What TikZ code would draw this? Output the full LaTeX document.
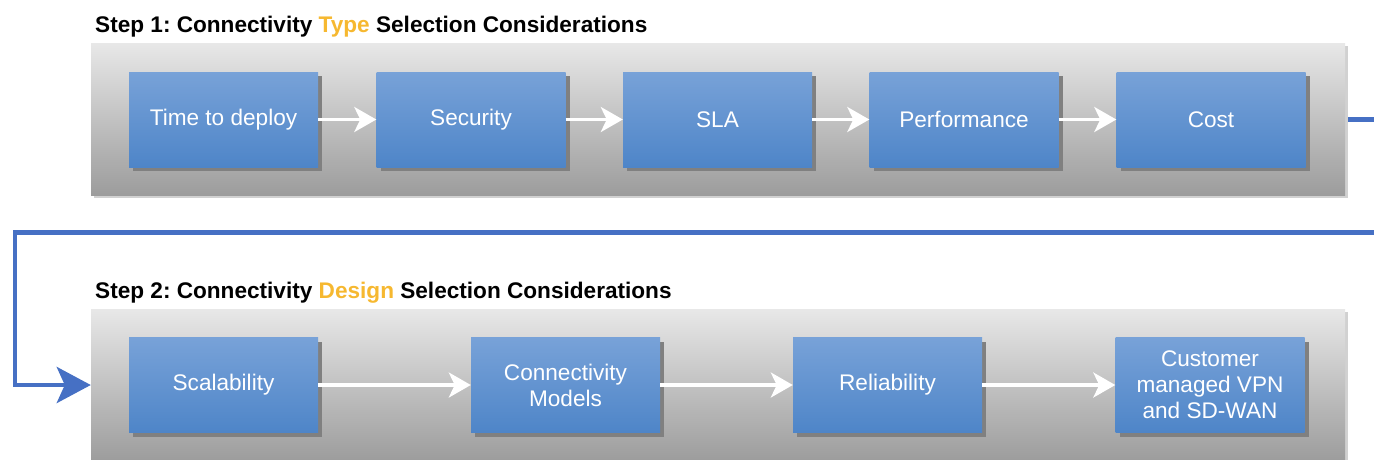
\documentclass[tikz,border=0pt]{standalone}
\usepackage{fontspec}
\setmainfont{Liberation Sans}
\usetikzlibrary{arrows.meta,shadows}
\frenchspacing
\definecolor{boxtop}{RGB}{120,162,216}
\definecolor{boxbot}{RGB}{78,133,200}
\definecolor{paneltop}{RGB}{232,232,232}
\definecolor{panelbot}{RGB}{156,156,156}
\definecolor{flowblue}{RGB}{70,112,196}
\definecolor{accent}{RGB}{246,184,48}
\pgfdeclarelayer{back}
\pgfsetlayers{back,main}
\tikzset{
  panel/.style={rectangle, minimum width=1254pt, minimum height=152pt,
    top color=paneltop, bottom color=panelbot, draw=none,
    general shadow={fill=black!18, shadow xshift=3pt, shadow yshift=-3pt}},
  stepbox/.style={rectangle, minimum width=189pt, minimum height=95pt,
    top color=boxtop, bottom color=boxbot, draw=none, text=white,
    align=center, inner sep=2pt,
    font=\fontsize{22.6}{26}\selectfont,
    general shadow={fill=black!50, shadow xshift=4pt, shadow yshift=-4pt}},
  steptitle/.style={anchor=base west, inner sep=0pt,
    font=\fontsize{22.6}{26}\selectfont\bfseries},
  flow/.style={draw=white, line width=3.5pt,
    -{Stealth[length=22pt, width=25pt, inset=6pt]}},
  link/.style={draw=flowblue, line width=4.5pt,
    -{Stealth[length=34pt, width=36pt, inset=8pt]}}
}
\begin{document}
\begin{tikzpicture}[x=1pt, y=-1pt]
\useasboundingbox (0,0) rectangle (1374,459);
\clip (0,0) rectangle (1374,459);

% group panels
\node[panel] (p1) at (718,119) {};
\node[panel] (p2) at (718,385) {};

% titles
\node[steptitle] (t1) at (95,32) {Step 1: Connectivity \textcolor{accent}{Type} Selection Considerations};
\node[steptitle] (t2) at (95,298) {Step 2: Connectivity \textcolor{accent}{Design} Selection Considerations};

% step 1 considerations
\node[stepbox] (deploy) at (223.5,119.5) {Time to deploy};
\node[stepbox] (sec)    at (471,119.5)   {Security};
\node[stepbox] (sla)    at (717.5,119.5) {SLA};
\node[stepbox] (perf)   at (964,119.5)   {Performance};
\node[stepbox] (cost)   at (1211,119.5)  {Cost};

% step 2 considerations
\node[stepbox] (scale)  at (223.5,385)   {Scalability};
\node[stepbox] (models) at (565.5,385)   {Connectivity\\Models};
\node[stepbox] (rel)    at (887.5,385)   {Reliability};
\node[stepbox] (vpn)    at (1210,385)    {Customer\\managed VPN\\and SD-WAN};

\draw[flow] (deploy) -- (sec);
\draw[flow] (sec) -- (sla);
\draw[flow] (sla) -- (perf);
\draw[flow] (perf) -- (cost);
\draw[flow] (scale) -- (models);
\draw[flow] (models) -- (rel);
\draw[flow] (rel) -- (vpn);

% hand-off from step 1 to step 2
\coordinate (turnR) at (1400,119.5);
\coordinate (turnL) at (15,232.5);
\begin{pgfonlayer}{back}
\draw[link] (cost.east) -- (turnR) -- (turnR |- turnL) -- (turnL) |- (p2.west);
\end{pgfonlayer}
\end{tikzpicture}
\end{document}
